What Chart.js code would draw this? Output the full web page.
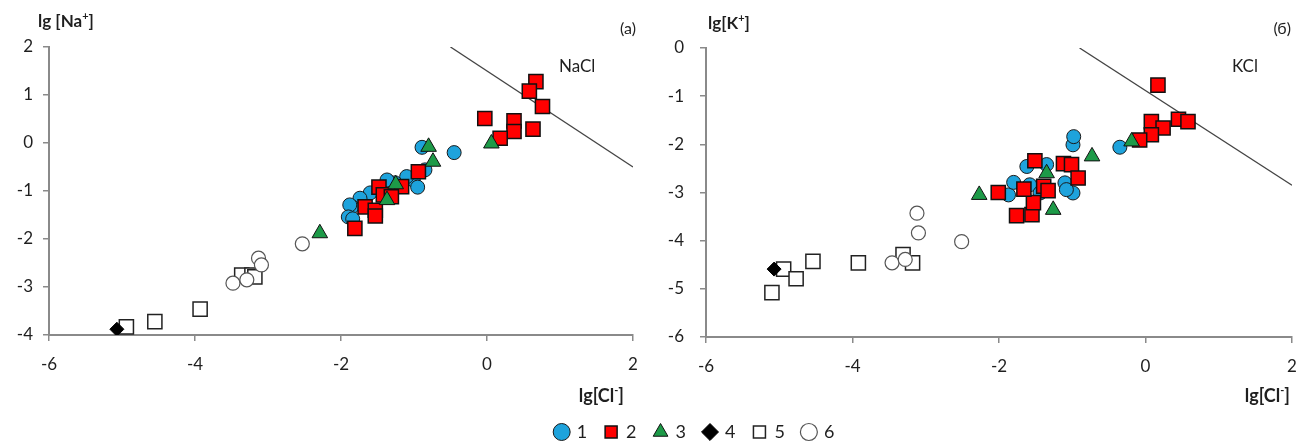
<!DOCTYPE html>
<html>
<head>
<meta charset="utf-8">
<script src="https://cdn.jsdelivr.net/npm/chart.js@4/dist/chart.umd.min.js"></script>
<style>
  body { margin: 0; background: #fff; width: 1311px; height: 446px; position: relative; overflow: hidden; }
  canvas { position: absolute; }
</style>
</head>
<body>
<canvas id="naChart" width="655" height="412" style="left:0;top:0"></canvas>
<canvas id="kChart" width="656" height="412" style="left:655px;top:0"></canvas>
<canvas id="legendChart" width="340" height="80" style="left:525px;top:405px"></canvas>
<script>
"use strict";

// legend names
const seriesNames = ['1', '2', '3', '4', '5', '6'];
const xTicks = [-6, -4, -2, 0, 2];

// panel (a): [lg Cl-, lg Na+]
const na1 = [[-0.89,-0.09],[-0.45,-0.20],[-0.85,-0.56],[-1.01,-0.77],[-0.95,-0.92],[-1.10,-0.70],[-1.26,-0.83],
  [-1.37,-0.77],[-1.60,-1.04],[-1.74,-1.15],[-1.85,-1.33],[-1.88,-1.29],[-1.90,-1.54],[-1.84,-1.58]];
const na2 = [[0.67,1.28],[0.58,1.08],[0.76,0.76],[-0.03,0.51],[0.37,0.46],[0.37,0.24],[0.63,0.29],[0.18,0.10],
  [-0.94,-0.60],[-1.17,-0.91],[-1.48,-0.92],[-1.42,-1.08],[-1.31,-1.12],[-1.67,-1.33],[-1.53,-1.40],
  [-1.53,-1.52],[-1.81,-1.78]];
const na3 = [[-0.80,-0.08],[-0.74,-0.39],[-1.25,-0.86],[-1.37,-1.19],[-2.29,-1.88],[0.06,-0.01]];
const na4 = [[-5.07,-3.88]];
const na5 = [[-4.94,-3.83],[-4.55,-3.72],[-3.93,-3.46],[-3.36,-2.75],[-3.22,-2.75],[-3.18,-2.79]];
const na6 = [[-3.48,-2.92],[-3.29,-2.85],[-3.13,-2.40],[-3.09,-2.54],[-2.53,-2.10]];
const naclLine = [[-0.5,2],[2,-0.5]];

// panel (б): [lg Cl-, lg K+]
const k1 = [[-1.87,-3.05],[-1.80,-2.79],[-1.62,-2.46],[-1.35,-2.42],[-1.58,-2.84],[-1.44,-3.01],[-0.99,-2.01],
  [-0.99,-3.01],[-1.10,-2.80],[-1.08,-2.94],[-0.98,-1.84],[-0.35,-2.06]];
const k2 = [[-2.01,-3.00],[-1.76,-3.48],[-1.55,-3.46],[-1.53,-3.21],[-1.66,-2.93],[-1.51,-2.34],[-1.39,-2.87],
  [-1.33,-2.96],[-1.12,-2.40],[-1.01,-2.42],[-0.92,-2.70],[0.17,-0.77],[0.08,-1.53],[0.24,-1.66],[0.08,-1.80],
  [-0.08,-1.91],[0.45,-1.48],[0.58,-1.53]];
const k3 = [[-2.27,-3.05],[-1.35,-2.60],[-1.26,-3.36],[-0.73,-2.25],[-0.19,-1.94]];
const k4 = [[-5.07,-4.59]];
const k5 = [[-4.94,-4.59],[-4.77,-4.79],[-5.10,-5.08],[-4.54,-4.43],[-3.92,-4.46],[-3.31,-4.29],[-3.18,-4.46]];
const k6 = [[-3.12,-3.43],[-3.10,-3.84],[-3.46,-4.46],[-3.28,-4.39],[-2.51,-4.02]];
const kclLine = [[-0.9,0],[2,-2.85]];

const FONT = 'Lato, "Open Sans", sans-serif';
const AXIS = '#8a8a8a';
const TXT = '#1f1f1f';

// drawing order: lower = on top
const drawOrder = [6, 5, 4, 1, 3, 2];

const markerStyles = [
  { pointStyle: 'circle', pointRadius: 7, backgroundColor: '#1ea3dc', borderColor: '#1a1a1a', borderWidth: 1 },
  { pointStyle: 'rect', pointRadius: 10, backgroundColor: '#ff0000', borderColor: '#111', borderWidth: 1.5 },
  { pointStyle: 'triangle', pointRadius: 9, backgroundColor: '#1d9a48', borderColor: '#111', borderWidth: 1 },
  { pointStyle: 'rectRot', pointRadius: 7, backgroundColor: '#000', borderColor: '#000', borderWidth: 1 },
  { pointStyle: 'rect', pointRadius: 10, backgroundColor: '#fff', borderColor: '#222', borderWidth: 1.5 },
  { pointStyle: 'circle', pointRadius: 7, backgroundColor: '#fff', borderColor: '#555', borderWidth: 1.2 }
];

const toXY = arr => arr.map(p => ({ x: p[0], y: p[1] }));

// draws the axis names and labels on top of the chart
function drawRich(ctx, parts, x, y, size, bold, align) {
  const base = (bold ? 'bold ' : '') + size + 'px ' + FONT;
  const sup = (bold ? 'bold ' : '') + Math.round(size * 0.62) + 'px ' + FONT;
  let w = 0;
  parts.forEach(p => { ctx.font = p.s ? sup : base; w += ctx.measureText(p.t).width; });
  let cx = align === 'right' ? x - w : x;
  ctx.textAlign = 'left';
  ctx.textBaseline = 'alphabetic';
  parts.forEach(p => {
    ctx.font = p.s ? sup : base;
    ctx.fillText(p.t, cx, p.s ? y - size * 0.42 : y);
    cx += ctx.measureText(p.t).width;
  });
}

const panelText = {
  id: 'panelText',
  afterDraw(chart, args, opts) {
    const ctx = chart.ctx;
    ctx.save();
    ctx.fillStyle = TXT;
    (opts.items || []).forEach(it => drawRich(ctx, it.parts, it.x, it.y, it.size, it.bold, it.align));
    ctx.restore();
  }
};

function makePanel(id, series, line, yMin, yMax, box, texts) {
  const datasets = series.map((s, i) => Object.assign({
    label: seriesNames[i],
    data: toXY(s),
    order: drawOrder[i]
  }, markerStyles[i]));
  datasets.push({
    label: 'line',
    data: toXY(line),
    showLine: true,
    pointRadius: 0,
    borderColor: '#444',
    borderWidth: 1.3,
    order: 10
  });

  new Chart(document.getElementById(id), {
    type: 'scatter',
    data: { datasets: datasets },
    options: {
      responsive: false,
      animation: false,
      layout: { padding: { top: box.top, right: box.right, left: 0, bottom: 0 } },
      plugins: {
        legend: { display: false },
        tooltip: { enabled: false },
        panelText: { items: texts }
      },
      scales: {
        x: {
          min: -6, max: 2,
          afterBuildTicks: s => { s.ticks = xTicks.map(v => ({ value: v })); },
          afterFit: s => { s.height = box.xh; },
          ticks: { font: { family: FONT, size: 17 }, color: TXT, padding: 13 },
          grid: { drawOnChartArea: false, drawTicks: true, tickLength: 6, color: AXIS, lineWidth: 1.5 },
          border: { color: AXIS, width: 2 }
        },
        y: {
          min: yMin, max: yMax,
          ticks: { stepSize: 1, font: { family: FONT, size: 17 }, color: TXT, padding: box.yp },
          afterFit: s => { s.width = box.yw; },
          grid: { drawOnChartArea: false, drawTicks: true, tickLength: 6, color: AXIS, lineWidth: 1.5 },
          border: { color: AXIS, width: 2 }
        }
      }
    },
    plugins: [panelText]
  });
}

makePanel('naChart', [na1, na2, na3, na4, na5, na6], naclLine, -4, 2,
  { top: 47, right: 22, xh: 77, yw: 49, yp: 10 },
  [
    { parts: [{ t: 'lg [Na' }, { t: '+', s: true }, { t: ']' }], x: 38, y: 27, size: 17, bold: true },
    { parts: [{ t: '(a)' }], x: 636, y: 34, size: 16, align: 'right' },
    { parts: [{ t: 'NaCl' }], x: 559, y: 72, size: 17 },
    { parts: [{ t: 'lg[Cl' }, { t: '-', s: true }, { t: ']' }], x: 624, y: 402, size: 18, bold: true, align: 'right' }
  ]);

makePanel('kChart', [k1, k2, k3, k4, k5, k6], kclLine, -6, 0,
  { top: 48, right: 19, xh: 75, yw: 51, yp: 16 },
  [
    { parts: [{ t: 'lg[K' }, { t: '+', s: true }, { t: ']' }], x: 53, y: 29, size: 17, bold: true },
    { parts: [{ t: '(б)' }], x: 636, y: 34, size: 16, align: 'right' },
    { parts: [{ t: 'KCl' }], x: 577, y: 72, size: 17 },
    { parts: [{ t: 'lg[Cl' }, { t: '-', s: true }, { t: ']' }], x: 635, y: 402, size: 18, bold: true, align: 'right' }
  ]);

// shared legend
new Chart(document.getElementById('legendChart'), {
  type: 'scatter',
  data: { datasets: seriesNames.map((n, i) => Object.assign({ label: n, data: [] }, markerStyles[i])) },
  options: {
    responsive: false,
    animation: false,
    layout: { padding: 0 },
    scales: { x: { display: false }, y: { display: false } },
    plugins: {
      tooltip: { enabled: false },
      legend: {
        display: true,
        position: 'top',
        maxHeight: 60,
        labels: { usePointStyle: true, boxWidth: 12, boxHeight: 12, padding: 18,
          font: { family: FONT, size: 18 }, color: TXT }
      }
    }
  }
});
</script>
</body>
</html>
